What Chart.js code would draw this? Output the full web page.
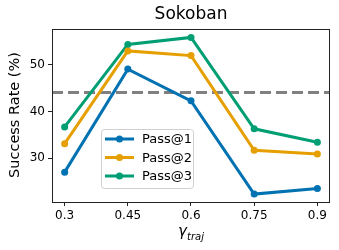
<!DOCTYPE html>
<html>
<head>
<meta charset="utf-8">
<script src="https://cdn.jsdelivr.net/npm/chart.js@4/dist/chart.umd.min.js"></script>
<style>
  html, body { margin: 0; padding: 0; background: #fff; }
  canvas { display: block; }
</style>
</head>
<body>
<canvas id="c" width="339" height="250"></canvas>
<script>
const gammas = [0.3, 0.45, 0.6, 0.75, 0.9];
const pass1 = [27.0, 49.1, 42.3, 22.3, 23.5];
const pass2 = [33.1, 53.0, 52.0, 31.7, 30.9];
const pass3 = [36.7, 54.4, 55.9, 36.3, 33.4];
const baseline = 44.1;
const yTicks = [30, 40, 50];

const FONT = '"DejaVu Sans", sans-serif';
const colors = { p1: '#0072B2', p2: '#E69F00', p3: '#009E73' };

const series = [
    { label: 'Pass@1', data: pass1, color: colors.p1 },
    { label: 'Pass@2', data: pass2, color: colors.p2 },
    { label: 'Pass@3', data: pass3, color: colors.p3 },
];

// frame, dashed baseline, legend and axis titles
const decor = {
    id: 'decor',
    beforeDatasetsDraw(chart) {
        const { ctx, chartArea: a, scales } = chart;
        const y = scales.y.getPixelForValue(baseline);
        ctx.save();
        ctx.strokeStyle = '#808080';
        ctx.lineWidth = 3;
        ctx.setLineDash([11, 5]);
        ctx.beginPath();
        ctx.moveTo(a.left, y);
        ctx.lineTo(a.right, y);
        ctx.stroke();
        ctx.restore();
    },
    afterDraw(chart) {
        const { ctx, chartArea: a } = chart;
        ctx.save();
        ctx.strokeStyle = '#222';
        ctx.lineWidth = 1;
        ctx.strokeRect(a.left + 0.5, a.top + 0.5, a.right - a.left - 1, a.bottom - a.top);

        // title
        ctx.fillStyle = '#000';
        ctx.textAlign = 'center';
        ctx.textBaseline = 'middle';
        ctx.font = '17px ' + FONT;
        ctx.fillText('Sokoban', (a.left + a.right) / 2, 15);

        // y title
        ctx.save();
        ctx.translate(15, 115);
        ctx.rotate(-Math.PI / 2);
        ctx.font = '14.5px ' + FONT;
        ctx.fillText('Success Rate (%)', 0, 0);
        ctx.restore();

        // x title: gamma_traj
        const cx = (a.left + a.right) / 2;
        const g = 'γ';
        ctx.font = 'italic 10px ' + FONT;
        const subW = ctx.measureText('traj').width;
        ctx.font = 'italic 15px ' + FONT;
        const gW = ctx.measureText(g).width;
        const x0 = cx - (gW + subW) / 2;
        ctx.textAlign = 'left';
        ctx.fillText(g, x0, 232);
        ctx.font = 'italic 10px ' + FONT;
        ctx.fillText('traj', x0 + gW, 237);

        // legend
        const lx = 101, ly = 129, lw = 92, lh = 59;
        ctx.fillStyle = 'rgba(255,255,255,0.8)';
        ctx.strokeStyle = '#d0d0d0';
        ctx.lineWidth = 1;
        ctx.beginPath();
        ctx.roundRect(lx + 0.5, ly + 0.5, lw, lh, 3);
        ctx.fill();
        ctx.stroke();
        ctx.font = '13px ' + FONT;
        ctx.textBaseline = 'middle';
        series.forEach((s, i) => {
            const yy = ly + 10 + i * 18.5;
            ctx.strokeStyle = s.color;
            ctx.lineWidth = 3;
            ctx.beginPath();
            ctx.moveTo(lx + 4, yy);
            ctx.lineTo(lx + 33, yy);
            ctx.stroke();
            ctx.fillStyle = s.color;
            ctx.beginPath();
            ctx.arc(lx + 18.5, yy, 3.5, 0, Math.PI * 2);
            ctx.fill();
            ctx.fillStyle = '#000';
            ctx.fillText(s.label, lx + 41, yy + 1);
        });
        ctx.restore();
    }
};

new Chart(document.getElementById('c'), {
    type: 'line',
    data: {
        datasets: series.map(s => ({
            label: s.label,
            data: gammas.map((g, i) => ({ x: g, y: s.data[i] })),
            borderColor: s.color,
            backgroundColor: s.color,
            borderWidth: 3,
            pointRadius: 3.5,
            pointBorderWidth: 0,
            tension: 0,
        })),
    },
    options: {
        responsive: false,
        animation: false,
        layout: { padding: { top: 29, right: 9, left: 0, bottom: 0 } },
        plugins: { legend: { display: false }, tooltip: { enabled: false } },
        scales: {
            x: {
                type: 'linear',
                min: 0.27,
                max: 0.93,
                afterBuildTicks: (ax) => { ax.ticks = gammas.map(v => ({ value: v })); },
                afterFit: (ax) => { ax.height = 48; },
                grid: { display: true, drawOnChartArea: false, drawTicks: true, tickLength: 4, color: '#222' },
                border: { display: false },
                ticks: {
                    color: '#000',
                    font: { family: FONT, size: 12 },
                    padding: 3,
                    maxRotation: 0,
                    callback: (v) => String(v),
                },
            },
            y: {
                min: 20.6,
                max: 57.7,
                afterBuildTicks: (ax) => { ax.ticks = yTicks.map(v => ({ value: v })); },
                afterFit: (ax) => { ax.width = 52; },
                grid: { display: true, drawOnChartArea: false, drawTicks: true, tickLength: 4, color: '#222' },
                border: { display: false },
                ticks: {
                    color: '#000',
                    font: { family: FONT, size: 12 },
                    padding: 3,
                },
            },
        },
    },
    plugins: [decor],
});
</script>
</body>
</html>
